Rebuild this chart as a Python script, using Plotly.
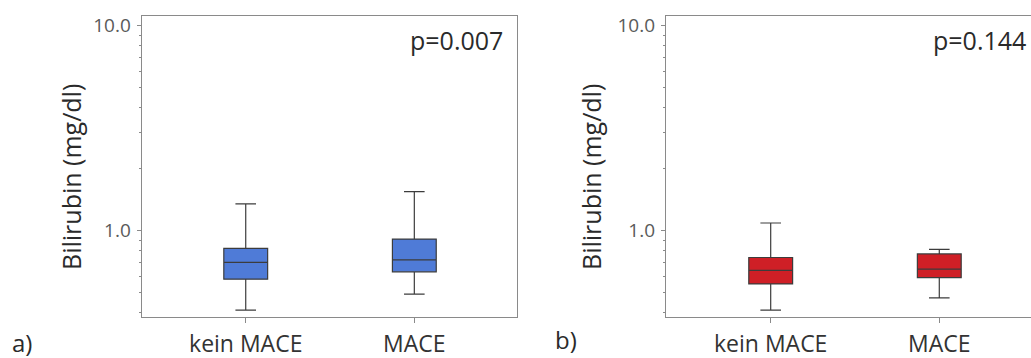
import plotly.graph_objects as go

W, H = 1031, 358

categories = ["kein MACE", "MACE"]

# panel a) (blue)
a_lower = [0.41, 0.49]
a_q1 = [0.58, 0.63]
a_median = [0.70, 0.72]
a_q3 = [0.82, 0.91]
a_upper = [1.35, 1.55]

# panel b) (red)
b_lower = [0.41, 0.47]
b_q1 = [0.55, 0.59]
b_median = [0.64, 0.65]
b_q3 = [0.74, 0.77]
b_upper = [1.09, 0.81]

p_values = ["p=0.007", "p=0.144"]
panel_labels = ["a)", "b)"]
y_title = "Bilirubin (mg/dl)"
major_ticks = [1, 10]
major_text = ["1.0", "10.0"]
minor_ticks = [0.4, 0.5, 0.6, 0.7, 0.8, 0.9, 2, 3, 4, 5, 6, 7, 8, 9]

FONT = "Open Sans"
BLUE = "#4f7bd7"
RED = "#cf1f26"
LINE = "#3c3c3c"
AXIS = "#8a8a8a"

fig = go.Figure()

def add_box(xa, ya, q1, med, q3, lo, hi, color):
    fig.add_trace(go.Box(
        x=categories, q1=q1, median=med, q3=q3,
        lowerfence=lo, upperfence=hi,
        fillcolor=color, line=dict(color=LINE, width=1.2),
        width=0.26, whiskerwidth=0.47, boxpoints=False,
        xaxis=xa, yaxis=ya, showlegend=False, hoverinfo="skip",
    ))

add_box("x", "y", a_q1, a_median, a_q3, a_lower, a_upper, BLUE)
add_box("x2", "y2", b_q1, b_median, b_q3, b_lower, b_upper, RED)

ydom = [1 - 317 / H, 1 - 16 / H]
yrange = [-0.421, 1.047]

def xaxis(domain, rng, mirror):
    return dict(
        domain=domain, range=rng, type="category", automargin=False,
        showline=True, linecolor=AXIS, linewidth=1.3, mirror=mirror,
        ticks="outside", ticklen=5, tickcolor=AXIS, tickwidth=1,
        tickfont=dict(family=FONT, size=23, color="#333333"),
        ticklabelstandoff=1,
        showgrid=False, zeroline=False, fixedrange=True,
    )

def yaxis(mirror):
    return dict(
        domain=ydom, type="log", range=yrange, automargin=False,
        showline=True, linecolor=AXIS, linewidth=1.3, mirror=mirror,
        tickmode="array", tickvals=major_ticks, ticktext=major_text,
        ticks="outside", ticklen=4, tickcolor=AXIS, tickwidth=1,
        tickfont=dict(family=FONT, size=19, color="#5a5a5a"),
        ticklabelstandoff=2,
        minor=dict(tickvals=minor_ticks, ticks="outside", ticklen=2,
                   tickcolor=AXIS, tickwidth=1, showgrid=False),
        showgrid=False, zeroline=False, fixedrange=True,
    )

xa = xaxis([141.7 / W, 517 / W], [-0.617, 1.609], True)
xa["anchor"] = "y"
xb = xaxis([666 / W, 1.0], [-0.621, 1.544], True)
xb["anchor"] = "y2"
ya = yaxis(True)
ya["anchor"] = "x"
yb = yaxis(False)
yb["anchor"] = "x2"

annotations = []
# p-values
for txt, xr in zip(p_values, [505, 1028]):
    annotations.append(dict(text=txt, xref="paper", yref="paper",
                            x=xr / W, y=1 - 40 / H, xanchor="right", yanchor="middle",
                            showarrow=False, font=dict(family=FONT, size=25, color="#2a2a2a")))
# y titles
for xc in [71, 591]:
    annotations.append(dict(text=y_title, xref="paper", yref="paper",
                            x=xc / W, y=1 - 177 / H, xanchor="center", yanchor="middle",
                            textangle=-90, showarrow=False,
                            font=dict(family=FONT, size=25, color="#2a2a2a")))
# panel labels
for txt, xc, yc in zip(panel_labels, [22, 566], [342, 339]):
    annotations.append(dict(text=txt, xref="paper", yref="paper",
                            x=xc / W, y=1 - yc / H, xanchor="center", yanchor="middle",
                            showarrow=False, font=dict(family=FONT, size=24, color="#2a2a2a")))

fig.update_layout(
    width=W, height=H, margin=dict(l=0, r=0, t=0, b=0),
    paper_bgcolor="white", plot_bgcolor="white",
    xaxis=xa, yaxis=ya, xaxis2=xb, yaxis2=yb,
    annotations=annotations, showlegend=False,
)

fig.write_html("out.html", config={"displayModeBar": False})
